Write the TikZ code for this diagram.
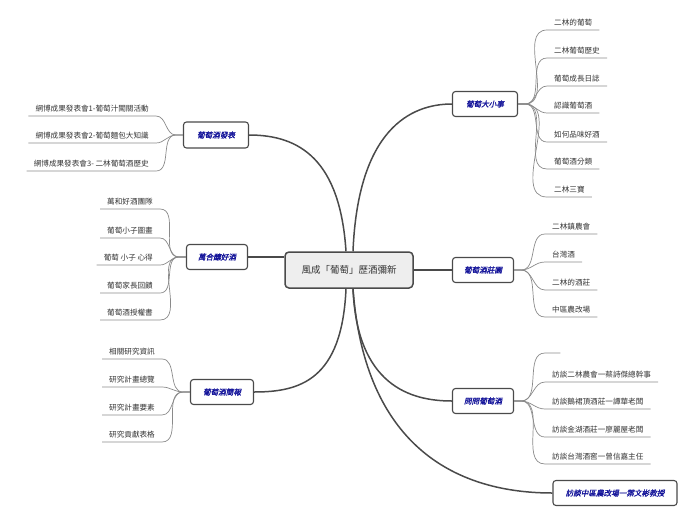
\documentclass[tikz,border=0pt]{standalone}
\usepackage{fontspec}
\setmainfont{Noto Sans CJK TC}
\newfontfamily\boxfont{Noto Sans CJK TC}[FakeSlant=0.22,FakeBold=1.2]
\definecolor{branch}{HTML}{4A4A4A}
\definecolor{leafgray}{HTML}{8A8A8A}
\definecolor{leaftext}{HTML}{333333}
\definecolor{topicblue}{HTML}{14149A}
\definecolor{centerfill}{HTML}{EEEEEE}
\begin{document}
\begin{tikzpicture}[x=1pt,y=-1pt,
  central/.style={draw=branch, line width=1.5pt, rounded corners=4pt, fill=centerfill,
    minimum width=128pt, minimum height=36pt, inner sep=2pt, text=leaftext,
    font=\fontsize{9.5}{11}\selectfont},
  topic/.style={draw=branch, line width=1.1pt, rounded corners=3pt, fill=white,
    minimum height=25pt, inner sep=2pt, text=topicblue,
    font=\boxfont\fontsize{7.6}{9}\selectfont},
  leaf/.style={inner xsep=7pt, inner ysep=3.6pt, text=leaftext,
    font=\fontsize{7.6}{9}\selectfont},
  mainline/.style={draw=branch, line width=1.5pt},
  leafline/.style={draw=leafgray, line width=0.7pt}]
\useasboundingbox (0,0) rectangle (696,520);

% central
\node[central] (c) at (349,270) {風成「葡萄」歷酒彌新};

% topics
\node[topic, minimum width=65pt] (t1) at (485,104) {葡萄大小事};
\node[topic, minimum width=61pt] (t2) at (483,270) {葡萄酒莊園};
\node[topic, minimum width=61pt] (t3) at (483,401) {問問葡萄酒};
\node[topic, minimum width=124pt] (t4) at (615,493) {訪談中區農改場一葉文彬教授};
\node[topic, minimum width=65pt, minimum height=26pt] (t5) at (216,135) {葡萄酒發表};
\node[topic, minimum width=61pt] (t6) at (217,257) {萬合釀好酒};
\node[topic, minimum width=63pt] (t7) at (222,392) {葡萄酒簡報};

% main branches
\draw[mainline] ([xshift=-3pt]c.north) .. controls (340,160) and (300,135) .. (t5.east);
\draw[mainline] ([xshift=4pt]c.north) .. controls (358,130) and (410,104) .. (t1.west);
\draw[mainline] (c.east) -- (t2.west);
\draw[mainline] (c.west |- t6.east) -- (t6.east);
\draw[mainline] ([xshift=-3pt]c.south) .. controls (342,380) and (300,392) .. (t7.east);
\draw[mainline] ([xshift=4pt]c.south) .. controls (357,385) and (410,401) .. (t3.west);
\draw[mainline] ([xshift=4pt]c.south) .. controls (365,450) and (460,493) .. (t4.west);

% leaves of t1
\node[leaf, anchor=south west] (a1) at (547,30) {二林的葡萄};
\node[leaf, anchor=south west] (a2) at (547,58) {二林葡萄歷史};
\node[leaf, anchor=south west] (a3) at (547,86) {葡萄成長日誌};
\node[leaf, anchor=south west] (a4) at (547,113) {認識葡萄酒};
\node[leaf, anchor=south west] (a5) at (547,142) {如何品味好酒};
\node[leaf, anchor=south west] (a6) at (547,169) {葡萄酒分類};
\node[leaf, anchor=south west] (a7) at (547,197) {二林三寶};
\foreach \n in {a1,a2,a3,a4,a5,a6,a7}
  \draw[leafline] (t1.east) -- ++(7,0) to[out=0,in=180] (\n.south west) -- (\n.south east);

% leaves of t2
\node[leaf, anchor=south west] (b1) at (545,234) {二林鎮農會};
\node[leaf, anchor=south west] (b2) at (545,262) {台灣酒};
\node[leaf, anchor=south west] (b3) at (545,290) {二林的酒莊};
\node[leaf, anchor=south west] (b4) at (545,317) {中區農改場};
\foreach \n in {b1,b2,b3,b4}
  \draw[leafline] (t2.east) -- ++(7,0) to[out=0,in=180] (\n.south west) -- (\n.south east);

% leaves of t3
\node[leaf, anchor=south west, minimum width=15pt] (q0) at (545,353) {};
\node[leaf, anchor=south west] (q1) at (545,382) {訪談二林農會一蔡詩傑總幹事};
\node[leaf, anchor=south west] (q2) at (545,409) {訪談鵝裙頂酒莊一譚華老闆};
\node[leaf, anchor=south west] (q3) at (545,437) {訪談金湖酒莊一廖麗屋老闆};
\node[leaf, anchor=south west] (q4) at (545,464) {訪談台灣酒窖一曾信嘉主任};
\foreach \n in {q0,q1,q2,q3,q4}
  \draw[leafline] (t3.east) -- ++(7,0) to[out=0,in=180] (\n.south west) -- (\n.south east);

% leaves of t5
\node[leaf, anchor=south east] (p1) at (156,116) {網博成果發表會1-葡萄汁闖關活動};
\node[leaf, anchor=south east] (p2) at (156,143) {網博成果發表會2-葡萄麵包大知識};
\node[leaf, anchor=south east] (p3) at (156,171) {網博成果發表會3- 二林葡萄酒歷史};
\foreach \n in {p1,p2,p3}
  \draw[leafline] (t5.west) -- ++(-7,0) to[out=180,in=0] (\n.south east) -- (\n.south west);

% leaves of t6
\node[leaf, anchor=south east] (w1) at (160,209) {萬和好酒團隊};
\node[leaf, anchor=south east] (w2) at (160,238) {葡萄小子圖畫};
\node[leaf, anchor=south east] (w3) at (160,265) {葡萄 小子 心得};
\node[leaf, anchor=south east] (w4) at (160,293) {葡萄家長回饋};
\node[leaf, anchor=south east] (w5) at (160,320) {葡萄酒授權書};
\foreach \n in {w1,w2,w3,w4,w5}
  \draw[leafline] (t6.west) -- ++(-7,0) to[out=180,in=0] (\n.south east) -- (\n.south west);

% leaves of t7
\node[leaf, anchor=south east] (s1) at (162,359) {相關研究資訊};
\node[leaf, anchor=south east] (s2) at (162,387) {研究計畫總覽};
\node[leaf, anchor=south east] (s3) at (162,415) {研究計畫要素};
\node[leaf, anchor=south east] (s4) at (162,442) {研究貢獻表格};
\foreach \n in {s1,s2,s3,s4}
  \draw[leafline] (t7.west) -- ++(-7,0) to[out=180,in=0] (\n.south east) -- (\n.south west);
\end{tikzpicture}
\end{document}
